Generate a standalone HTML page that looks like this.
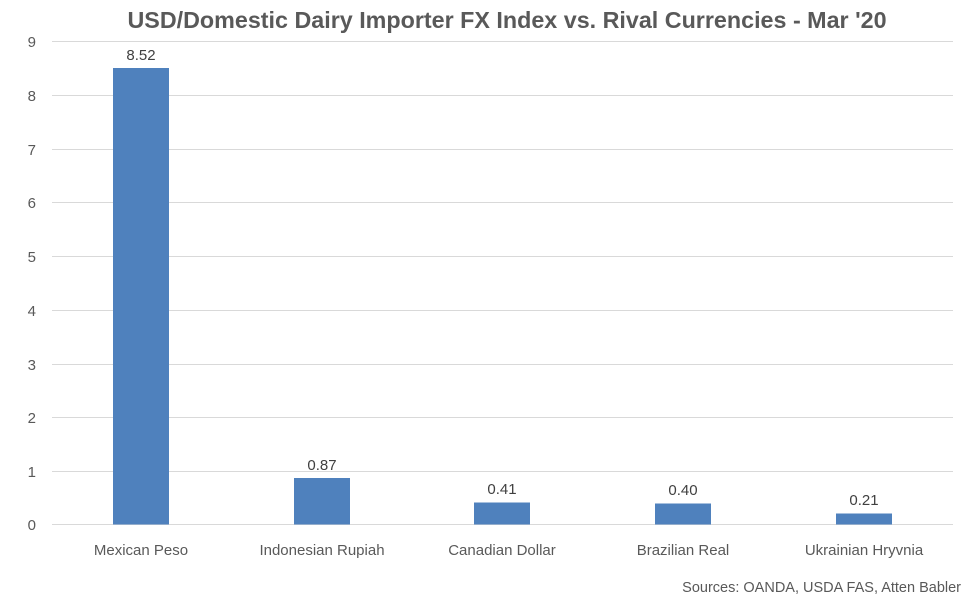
<!DOCTYPE html>
<html><head><meta charset="utf-8"><style>
body{margin:0;background:#fff;}
svg{display:block;font-family:"Liberation Sans",Calibri,sans-serif;}
</style></head><body>
<svg width="975" height="601" xmlns="http://www.w3.org/2000/svg">
<rect width="975" height="601" fill="#fff"/>
<text x="507" y="28" text-anchor="middle" font-size="23.3" font-weight="bold" fill="#595959">USD/Domestic Dairy Importer FX Index vs. Rival Currencies - Mar '20</text>
<g stroke="#d9d9d9" stroke-width="1">
<line x1="52" x2="953" y1="41.5" y2="41.5"/>
<line x1="52" x2="953" y1="95.5" y2="95.5"/>
<line x1="52" x2="953" y1="149.5" y2="149.5"/>
<line x1="52" x2="953" y1="202.5" y2="202.5"/>
<line x1="52" x2="953" y1="256.5" y2="256.5"/>
<line x1="52" x2="953" y1="310.5" y2="310.5"/>
<line x1="52" x2="953" y1="364.5" y2="364.5"/>
<line x1="52" x2="953" y1="417.5" y2="417.5"/>
<line x1="52" x2="953" y1="471.5" y2="471.5"/>
<line x1="52" x2="953" y1="524.5" y2="524.5"/>
</g>
<g font-size="15" fill="#595959" text-anchor="end">
<text x="36" y="47">9</text><text x="36" y="101">8</text><text x="36" y="155">7</text>
<text x="36" y="208">6</text><text x="36" y="262">5</text><text x="36" y="316">4</text>
<text x="36" y="370">3</text><text x="36" y="423">2</text><text x="36" y="477">1</text>
<text x="36" y="530">0</text>
</g>
<g fill="#4f81bd">
<rect x="113" y="68" width="56" height="456.5"/>
<rect x="294" y="478" width="56" height="46.5"/>
<rect x="474" y="502.5" width="56" height="22"/>
<rect x="655" y="503.5" width="56" height="21"/>
<rect x="836" y="513.5" width="56" height="11"/>
</g>
<g font-size="15" fill="#404040" text-anchor="middle">
<text x="141" y="60">8.52</text>
<text x="322" y="470">0.87</text>
<text x="502" y="494">0.41</text>
<text x="683" y="495">0.40</text>
<text x="864" y="505">0.21</text>
</g>
<g font-size="15" fill="#595959" text-anchor="middle">
<text x="141" y="555">Mexican Peso</text>
<text x="322" y="555">Indonesian Rupiah</text>
<text x="502" y="555">Canadian Dollar</text>
<text x="683" y="555">Brazilian Real</text>
<text x="864" y="555">Ukrainian Hryvnia</text>
</g>
<text x="961" y="592" text-anchor="end" font-size="14.5" fill="#595959">Sources: OANDA, USDA FAS, Atten Babler</text>
</svg>
</body></html>
